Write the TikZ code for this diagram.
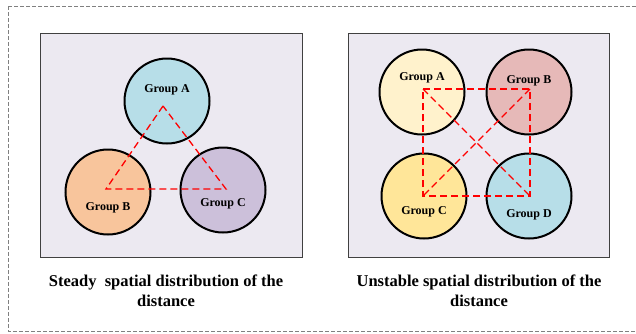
\documentclass[tikz,border=0pt]{standalone}
\usepackage{fontspec}
\setmainfont{Liberation Serif}
\usetikzlibrary{positioning}

\definecolor{panelbg}{HTML}{ECE9F1}
\definecolor{skyblue}{HTML}{B7DEE8}
\definecolor{peach}{HTML}{F8C59C}
\definecolor{lilac}{HTML}{CCC0DA}
\definecolor{cream}{HTML}{FFF2CC}
\definecolor{rosy}{HTML}{E6B9B8}
\definecolor{sand}{HTML}{FFE699}

\begin{document}
\begin{tikzpicture}[
    x=1pt, y=-1pt,
    frame/.style={draw=black!50, line width=0.8pt, dash pattern=on 4pt off 2pt},
    panel/.style={draw=black!75, fill=panelbg, line width=0.9pt},
    grp/.style={
        circle,
        draw,
        line width=2pt,
        minimum size=85pt,
        inner sep=0pt
    },
    tag/.style={font=\bfseries\fontsize{12}{14}\selectfont},
    captext/.style={
        align=center,
        font=\bfseries\fontsize{16.5}{20}\selectfont
    },
    link/.style={red, line width=1.3pt, dash pattern=on 7pt off 4pt}
]
\clip (0,0) rectangle (636,333);

% Outer frame
\draw[frame] (8,6) rectangle (660,331);

% Panels
\draw[panel] (40,33) rectangle (302,257);
\draw[panel] (348,33) rectangle (609,257);

% Steady case
\node (sA) [grp, fill=skyblue] at (167,101) {};
\node (sB) [grp, fill=peach] at (108,192) {};
\node (sC) [grp, fill=lilac] at (223,190) {};

\node (sAt) [tag] at (167,90) {Group A};
\node (sBt) [tag] at (108,208) {Group B};
\node (sCt) [tag] at (223,204) {Group C};

\coordinate (s1) at (163,106);
\coordinate (s2) at (106,189);
\coordinate (s3) at (226,189);
\draw[link] (s1) -- (s2) -- (s3) -- cycle;

\node (scap) [captext] at (166,291) {Steady\ \ spatial distribution of the\\distance};

% Unstable case
\node (uA) [grp, fill=cream] at (422,92) {};
\node (uB) [grp, fill=rosy] at (529,92) {};
\node (uC) [grp, fill=sand] at (424,196) {};
\node (uD) [grp, fill=skyblue] at (529,196) {};

\node (uAt) [tag] at (422,78) {Group A};
\node (uBt) [tag] at (529,81) {Group B};
\node (uCt) [tag] at (424,212) {Group C};
\node (uDt) [tag] at (529,215) {Group D};

\coordinate (u1) at (423,89);
\coordinate (u2) at (530,89);
\coordinate (u3) at (423,196);
\coordinate (u4) at (530,196);
\draw[link] (u1) -- (u2) -- (u4) -- (u3) -- cycle;
\draw[link] (u1) -- (u4);
\draw[link] (u2) -- (u3);

\node (ucap) [captext] at (479,291) {Unstable spatial distribution of the\\distance};

\end{tikzpicture}
\end{document}
